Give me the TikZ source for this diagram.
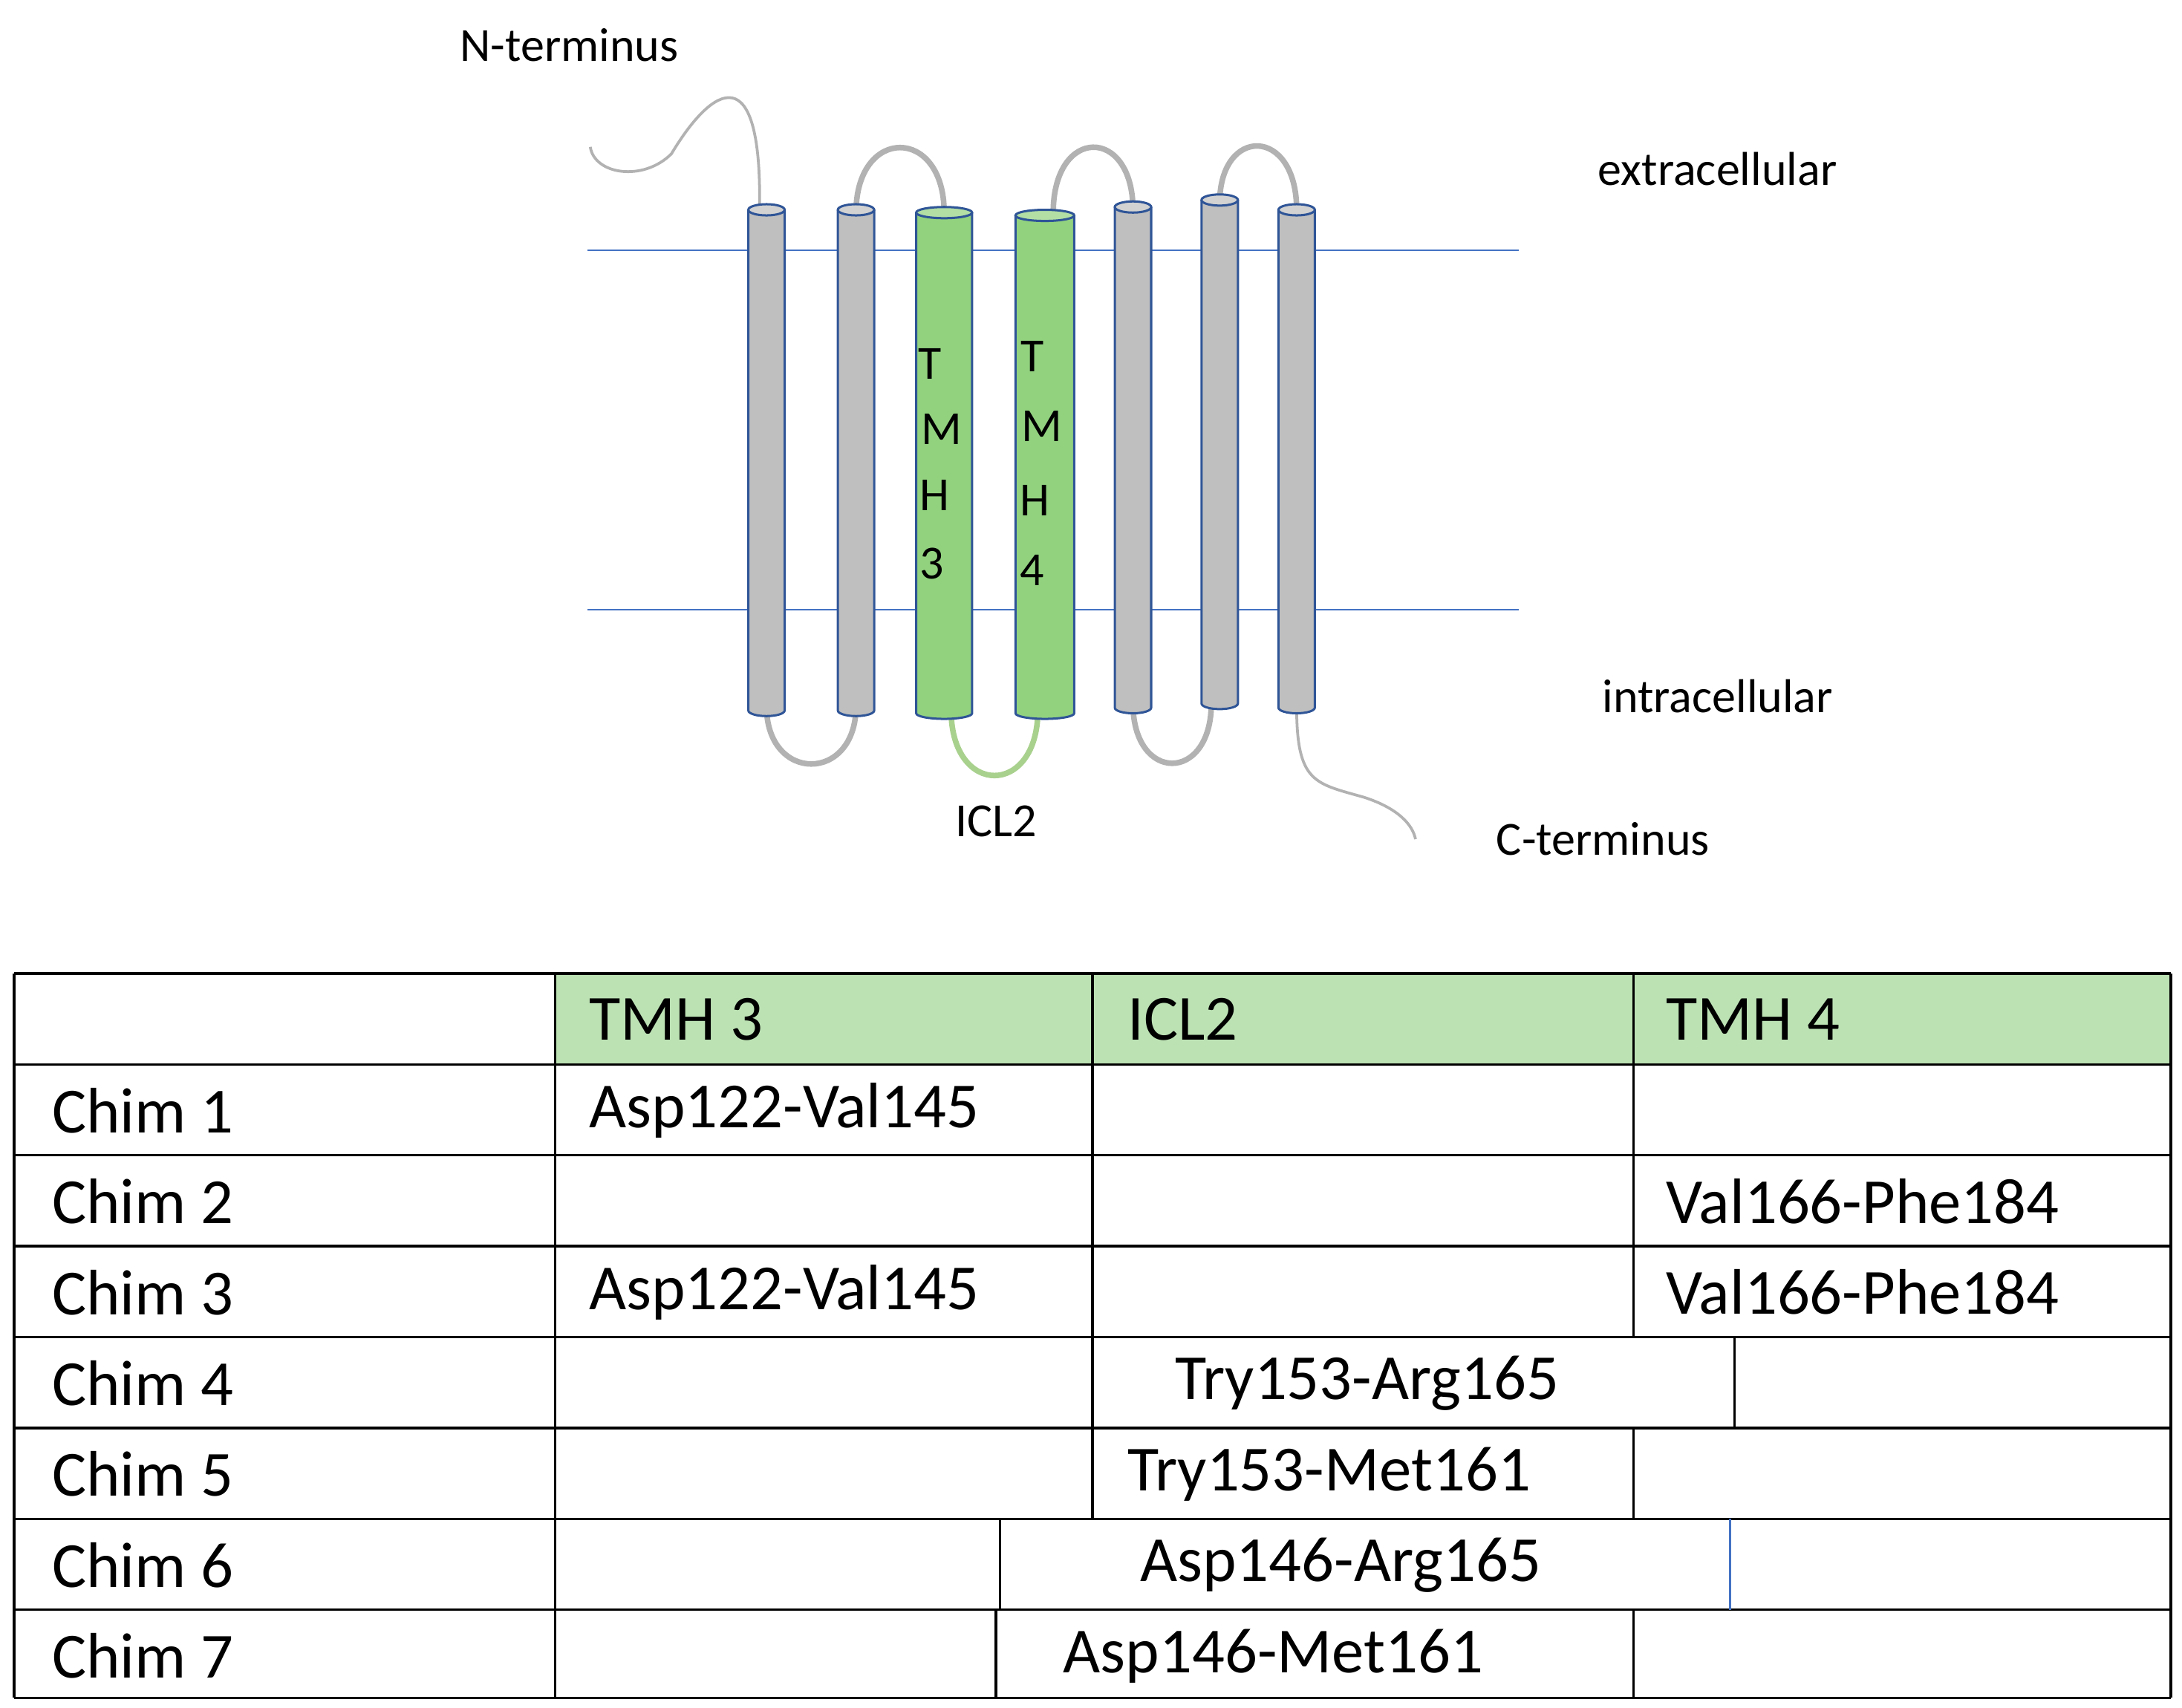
\documentclass[tikz,border=0pt]{standalone}
\usepackage{fontspec}
\setmainfont{Carlito}
\definecolor{lineblue}{HTML}{4472C4}
\definecolor{cylblue}{HTML}{2F5597}
\definecolor{cylgray}{HTML}{BFBFBF}
\definecolor{cylgreen}{HTML}{92D27F}
\definecolor{loopgreen}{HTML}{A9D18E}
\definecolor{hdr}{HTML}{BCE2B4}
\begin{document}
\begin{tikzpicture}[x=1pt,y=-1pt,
  lbl/.style={font=\fontsize{34}{40}\selectfont,inner sep=0},
  cell/.style={font=\fontsize{46}{52}\selectfont,anchor=west,inner sep=0},
  loopg/.style={line width=4pt,color=gray!60},
  membrane/.style={lineblue,line width=1.2pt}]
\useasboundingbox (0,0) rectangle (1560,1221);
% membranes
\draw[membrane] (420,179) -- (1086,179);
\draw[membrane] (420,436) -- (1086,436);
% loops (drawn first)
\draw[loopg] (612,152) .. controls (612,90) and (675,90) .. (675,152);
\draw[loopg] (753,152) .. controls (753,90) and (810,90) .. (810,150);
\draw[loopg] (872,145) .. controls (872,90) and (927,90) .. (927,150);
\draw[loopg] (548,505) .. controls (548,560) and (612,560) .. (612,505);
\draw[loopg] (810,503) .. controls (810,560) and (866,560) .. (866,503);
\draw[line width=4pt,loopgreen] (680,508) .. controls (680,570) and (742,570) .. (742,508);
\draw[gray!60,line width=2pt] (543,150) .. controls (545,40) and (510,60) .. (480,110) .. controls (460,130) and (425,125) .. (422,105);
\draw[gray!60,line width=2pt] (927,505) .. controls (927,560) and (940,560) .. (975,570) .. controls (1000,578) and (1010,590) .. (1012,600);
% cylinders
\foreach \x/\w/\t/\b/\c [count=\i] in {548/26/150/508/cylgray,612/26/150/508/cylgray,675/40/152/510/cylgreen,747/42/154/510/cylgreen,810/26/148/506/cylgray,872/26/143/503/cylgray,927/26/150/506/cylgray}{
  \pgfmathsetmacro{\r}{\w/2}
  \fill[\c] (\x-\r,\t) rectangle (\x+\r,\b);
  \fill[\c] (\x,\b) ellipse ({\r} and 4);
  \draw[cylblue,line width=1.6pt] (\x-\r,\t) -- (\x-\r,\b) arc[start angle=180,end angle=360,x radius=\r,y radius=-4] -- (\x+\r,\t);
  \filldraw[fill=\c!70!white,draw=cylblue,line width=1.6pt] (\x,\t) ellipse ({\r} and 4);
  \coordinate (cyl\i) at (\x,\t);
}
% helix labels
\foreach \ch/\x/\y in {T/665/260,M/673/307,H/668/354,3/666/403,T/738/255,M/745/305,H/740/358,4/738/408}
  \node[lbl] at (\x,\y) {\ch};
\node[lbl] (nt) at (407,32) {N-terminus};
\node[lbl] (ex) at (1228,121) {extracellular};
\node[lbl] (in) at (1228,498) {intracellular};
\node[lbl] (icl) at (712,587) {ICL2};
\node[lbl] (ct) at (1146,600) {C-terminus};
% table
\fill[hdr] (397,696) rectangle (1552,761);
\foreach \y in {696,761,826,891,956,1021,1086,1151,1214}
  \draw[line width=1.8pt] (10,\y) -- (1552,\y);
\draw[line width=1.8pt] (10,696) -- (10,1214);
\draw[line width=1.8pt] (1552,696) -- (1552,1214);
\draw[line width=1.8pt] (397,696) -- (397,1214);
\draw[line width=1.8pt] (781,696) -- (781,1086);
\draw[line width=1.8pt] (1168,696) -- (1168,956);
\draw[line width=1.8pt] (1240,956) -- (1240,1021);
\draw[line width=1.8pt] (1168,1021) -- (1168,1086);
\draw[line width=1.8pt] (715,1086) -- (715,1151);
\draw[line width=1.4pt,lineblue] (1237,1086) -- (1237,1151);
\draw[line width=1.8pt] (712,1151) -- (712,1214);
\draw[line width=1.8pt] (1168,1151) -- (1168,1214);
\node[cell] (h1) at (421,729) {TMH 3};
\node[cell] (h2) at (806,729) {ICL2};
\node[cell] (h3) at (1191,729) {TMH 4};
\foreach \i/\y in {1/794,2/859,3/924,4/989,5/1054,6/1119,7/1184}
  \node[cell] (c\i) at (37,\y) {Chim \i};
\node[cell] (a1) at (421,794) {Asp122-Val145};
\node[cell] (b2) at (1191,859) {Val166-Phe184};
\node[cell] (a3) at (421,924) {Asp122-Val145};
\node[cell] (b3) at (1191,924) {Val166-Phe184};
\node[cell] (t4) at (840,989) {Try153-Arg165};
\node[cell] (t5) at (806,1054) {Try153-Met161};
\node[cell] (t6) at (815,1119) {Asp146-Arg165};
\node[cell] (t7) at (760,1184) {Asp146-Met161};
\end{tikzpicture}
\end{document}
